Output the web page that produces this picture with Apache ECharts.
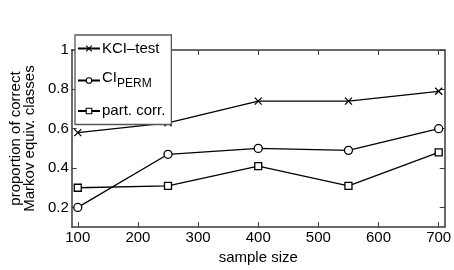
<!DOCTYPE html>
<html><head><meta charset="utf-8">
<script src="https://cdn.jsdelivr.net/npm/echarts@6/dist/echarts.min.js"></script>
<style>html,body{margin:0;padding:0;background:#fff}#c{width:454px;height:270px}</style>
</head><body><div id="c"></div>
<script>
const sampleSizes = [100, 250, 400, 550, 700];
const kciTest = [0.58, 0.63, 0.74, 0.74, 0.79];
const ciPerm = [0.20, 0.47, 0.50, 0.49, 0.60];
const partCorr = [0.30, 0.31, 0.41, 0.31, 0.48];
const xTicks = [100, 200, 300, 400, 500, 600, 700];
const yTicks = [0.2, 0.4, 0.6, 0.8, 1];

const pair = (xs, ys) => xs.map((x, i) => [x, ys[i]]);
const F = 'Liberation Sans, Arial, sans-serif';
const axisCol = '#3a3a3a';
const chart = echarts.init(document.getElementById('c'));
const baseAxisLine = {show: true, lineStyle: {color: axisCol, width: 1.5}};
const symStyle = {color: '#fff', borderColor: '#000', borderWidth: 1.3};
chart.setOption({
  animation: false,
  backgroundColor: '#fff',
  grid: {left: 59, right: 7, top: 50, bottom: 36},
  legend: {
    orient: 'vertical', left: 75, top: 35,
    width: 95,
    backgroundColor: '#fff',
    borderColor: '#555', borderWidth: 1.3, borderRadius: 0,
    padding: [6, 6, 6, 2],
    itemWidth: 22, itemHeight: 7, itemGap: 14,
    itemStyle: {borderWidth: 1.1},
    textStyle: {fontFamily: F, fontSize: 15, color: '#000', padding: [0,0,0,-3],
      rich: {a: {fontFamily: F, fontSize: 15, color: '#000', padding: [0,0,6,0]},
             b: {fontFamily: F, fontSize: 12, color: '#000', padding: [6,0,0,0]}}},
    formatter: n => n === 'CIPERM' ? '{a|CI}{b|PERM}' : n,
    data: ['KCI\u2013test', 'CIPERM', 'part. corr.']
  },
  xAxis: [{
    type: 'value', min: 90, max: 710, position: 'bottom',
    name: 'sample size', nameLocation: 'middle', nameGap: 20,
    nameTextStyle: {fontFamily: F, fontSize: 15, color: '#000'},
    axisLine: baseAxisLine,
    axisTick: {show: true, inside: true, length: 5, lineStyle: {color: axisCol}, customValues: xTicks},
    axisLabel: {fontFamily: F, fontSize: 15, color: '#000', margin: 3, customValues: xTicks},
    splitLine: {show: false}
  }, {
    type: 'value', min: 90, max: 710, position: 'top',
    axisLine: baseAxisLine,
    axisTick: {show: true, inside: true, length: 5, lineStyle: {color: axisCol}, customValues: xTicks},
    axisLabel: {show: false}, splitLine: {show: false}
  }],
  yAxis: [{
    type: 'value', min: 0.1, max: 1, position: 'left',
    name: 'proportion of correct\nMarkov equiv. classes', nameLocation: 'middle', nameGap: 32,
    nameTextStyle: {fontFamily: F, fontSize: 15, color: '#000', lineHeight: 14},
    axisLine: baseAxisLine,
    axisTick: {show: true, inside: true, length: 5, lineStyle: {color: axisCol}, customValues: yTicks},
    axisLabel: {fontFamily: F, fontSize: 15, color: '#000', margin: 3, customValues: yTicks,
      formatter: v => (Math.abs(v - 1) < 1e-9 ? '1' : String(+v.toFixed(1)))},
    splitLine: {show: false}
  }, {
    type: 'value', min: 0.1, max: 1, position: 'right',
    axisLine: baseAxisLine,
    axisTick: {show: true, inside: true, length: 5, lineStyle: {color: axisCol}, customValues: yTicks},
    axisLabel: {show: false}, splitLine: {show: false}
  }],
  series: [{
    name: 'KCI\u2013test', type: 'line', data: pair(sampleSizes, kciTest),
    symbol: 'path://M0,0L10,10M10,0L0,10', symbolSize: 7,
    lineStyle: {color: '#000', width: 1.3}, itemStyle: {color: '#000', borderColor: '#000', borderWidth: 1.3}
  }, {
    name: 'CIPERM', type: 'line', data: pair(sampleSizes, ciPerm),
    symbol: 'circle', symbolSize: 8,
    lineStyle: {color: '#000', width: 1.3}, itemStyle: symStyle
  }, {
    name: 'part. corr.', type: 'line', data: pair(sampleSizes, partCorr),
    symbol: 'rect', symbolSize: 7,
    lineStyle: {color: '#000', width: 1.3}, itemStyle: symStyle
  }]
});
</script></body></html>
